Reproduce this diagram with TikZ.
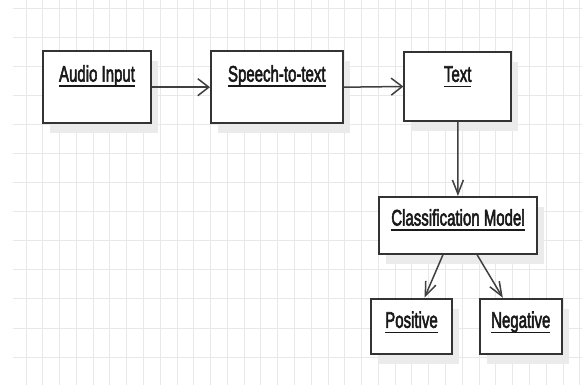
\documentclass[tikz,border=0pt]{standalone}
\usepackage{fontspec}
\usepackage{graphicx}
\usetikzlibrary{arrows.meta,shadows}
\newfontfamily\lblfont[FakeBold=3]{Liberation Sans}
\newcommand\ultext[1]{\sbox0{\scalebox{1}[1.5]{#1}}\usebox0\llap{\rule[-5.5pt]{\wd0}{1.7pt}}}

\begin{document}
\begin{tikzpicture}[x=1pt,y=-1pt,
	gridline/.style={black!9,line width=0.9pt},
	box/.style={draw=black!80,line width=1.9pt,fill=white,inner sep=0pt,
		drop shadow={shadow xshift=7pt,shadow yshift=-10pt,fill=black!8,opacity=1}},
	lbl/.style={font=\lblfont\fontsize{15}{18}\selectfont,text=black!90,inner sep=0pt,anchor=base},
	harrow/.style={draw=black!75,line width=1.5pt,-{Straight Barb[length=11pt,width=17pt]}},
	varrow/.style={draw=black!75,line width=1.5pt,-{Straight Barb[length=14pt,width=11pt]}}]
	\useasboundingbox[fill=white](0,0) rectangle (582,385);

	\foreach \i in {0,...,33}
		\draw[gridline](26+\i*16.78,0)--(26+\i*16.78,385);
	\foreach \j in {0,...,12}
		\draw[gridline](12.7,8.3+\j*29.06)--(582,8.3+\j*29.06);

	\node[box,minimum width=108.6pt,minimum height=72.3pt](audio) at (97,87.2) {};
	\node[box,minimum width=131.7pt,minimum height=72.3pt](speech) at (276.8,87.2) {};
	\node[box,minimum width=106.7pt,minimum height=69.6pt](text) at (457.7,86.5) {};
	\node[box,minimum width=157.4pt,minimum height=56.7pt](cls) at (458,225.3) {};
	\node[box,minimum width=81.6pt,minimum height=55.6pt](pos) at (411.5,326.5) {};
	\node[box,minimum width=81.7pt,minimum height=55.6pt](neg) at (520.8,326.5) {};

	\node[lbl](audiolbl) at ([yshift=-31.5pt]audio.north) {\ultext{Audio Input}};
	\node[lbl](speechlbl) at ([yshift=-31.5pt]speech.north) {\ultext{Speech-to-text}};
	\node[lbl](textlbl) at ([yshift=-31pt]text.north) {\ultext{Text}};
	\node[lbl](clslbl) at ([yshift=-29.5pt]cls.north) {\ultext{Classification Model}};
	\node[lbl](poslbl) at ([yshift=-30pt]pos.north) {\ultext{Positive}};
	\node[lbl](neglbl) at ([yshift=-30pt]neg.north) {\ultext{Negative}};

	\draw[harrow](audio)--(speech);
	\draw[harrow](speech.east)--(text.west);
	\draw[varrow](text)--(cls);
	\draw[varrow]([xshift=-15pt]cls.south)--([xshift=13pt]pos.north);
	\draw[varrow]([xshift=19pt]cls.south)--([xshift=-18pt]neg.north);
\end{tikzpicture}
\end{document}
